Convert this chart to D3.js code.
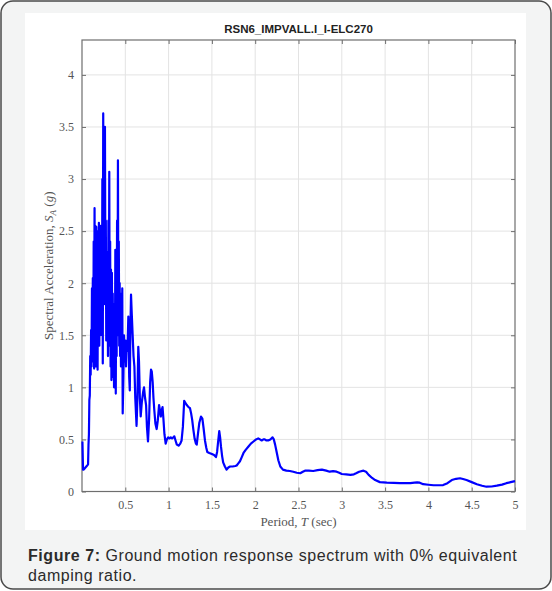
<!DOCTYPE html>
<html>
<head>
<meta charset="utf-8">
<script src="https://cdn.jsdelivr.net/npm/d3@7"></script>
<style>
  html, body { margin: 0; padding: 0; background: #fff; }
  svg { display: block; }
</style>
</head>
<body>
<div id="chart"></div>
<script>
// spectrum: period (sec) and spectral acceleration (g)
const period = [
  0.005, 0.012, 0.02, 0.03, 0.04, 0.05, 0.06, 0.07, 0.075, 0.08, 0.085, 0.09, 0.095,
  0.100, 0.105, 0.110, 0.115, 0.120, 0.125, 0.130, 0.135, 0.140, 0.145, 0.150, 0.155,
  0.160, 0.165, 0.170, 0.175, 0.180, 0.185, 0.190, 0.195, 0.200, 0.205, 0.210, 0.215,
  0.220, 0.225, 0.230, 0.235, 0.240, 0.245, 0.250, 0.255, 0.260, 0.265, 0.270, 0.275,
  0.280, 0.285, 0.290, 0.295, 0.300, 0.305, 0.310, 0.315, 0.320, 0.325, 0.330, 0.335,
  0.340, 0.345, 0.350, 0.355, 0.360, 0.365, 0.370, 0.375, 0.380, 0.385, 0.390, 0.395,
  0.400, 0.405, 0.410, 0.415, 0.420, 0.425, 0.430, 0.435, 0.440, 0.445, 0.450, 0.455,
  0.460, 0.465, 0.470, 0.478, 0.485, 0.492, 0.500, 0.508, 0.516, 0.525, 0.535, 0.545,
  0.552, 0.558, 0.566, 0.575, 0.585, 0.595, 0.605, 0.615, 0.630, 0.640, 0.650, 0.658,
  0.668, 0.678, 0.690, 0.705, 0.716, 0.728, 0.740, 0.750, 0.762, 0.775, 0.787, 0.797,
  0.806, 0.816, 0.825, 0.835, 0.848, 0.862, 0.875, 0.890, 0.900, 0.910, 0.920, 0.930,
  0.940, 0.952, 0.966, 0.980, 0.995, 1.010, 1.025, 1.040, 1.055, 1.066, 1.080, 1.095,
  1.115, 1.135, 1.150, 1.165, 1.180, 1.195, 1.210, 1.230, 1.247, 1.260, 1.272, 1.285,
  1.300, 1.315, 1.325, 1.340, 1.355, 1.374, 1.390, 1.405, 1.420, 1.435, 1.447, 1.470,
  1.500, 1.525, 1.547, 1.560, 1.572, 1.585, 1.595, 1.605, 1.618, 1.630, 1.650, 1.670,
  1.690, 1.710, 1.740, 1.770, 1.786, 1.805, 1.824, 1.845, 1.865, 1.890, 1.920, 1.950,
  1.980, 2.010, 2.035, 2.055, 2.075, 2.095, 2.110, 2.130, 2.150, 2.175, 2.200, 2.215,
  2.230, 2.250, 2.267, 2.290, 2.320, 2.360, 2.400, 2.440, 2.480, 2.520, 2.550, 2.575,
  2.620, 2.670, 2.720, 2.770, 2.820, 2.860, 2.900, 2.940, 2.970, 3.000, 3.050, 3.100,
  3.140, 3.165, 3.200, 3.250, 3.280, 3.310, 3.350, 3.385, 3.440, 3.520, 3.600, 3.670,
  3.730, 3.790, 3.840, 3.870, 3.900, 3.940, 4.000, 4.060, 4.120, 4.170, 4.220, 4.270,
  4.320, 4.365, 4.400, 4.440, 4.500, 4.560, 4.620, 4.670, 4.730, 4.790, 4.850, 4.900,
  4.950, 5.000
];
const spectralAcc = [
  0.48, 0.21, 0.21, 0.22, 0.23, 0.24, 0.25, 0.26, 0.45, 0.55, 0.88, 0.92, 1.30,
  1.12, 1.55, 1.20, 1.95, 1.35, 2.05, 1.25, 2.40, 1.18, 2.72, 1.30, 2.55,
  1.20, 2.54, 1.45, 2.30, 1.17, 2.50, 1.60, 2.58, 1.40, 2.20, 1.50, 2.55,
  1.75, 2.40, 1.50, 3.00, 1.23, 3.63, 2.10, 3.10, 1.80, 3.50, 2.00, 2.60,
  1.45, 2.30, 1.60, 2.22, 1.30, 2.60, 1.50, 3.07, 1.40, 2.40, 1.20, 2.13,
  1.07, 2.10, 1.30, 1.90, 1.10, 1.80, 1.00, 1.75, 1.15, 2.32, 0.94, 2.20,
  1.30, 2.60, 1.50, 3.18, 1.60, 2.40, 1.40, 2.00, 1.30, 1.90, 1.20, 1.70,
  1.40, 1.95, 0.75, 1.10, 1.50, 1.25, 1.45, 1.20, 1.45, 1.35, 1.68, 1.10,
  0.97, 1.50, 1.89, 1.70, 1.50, 1.30, 1.20, 0.90, 0.63, 0.90, 1.39, 1.25,
  0.90, 0.72, 0.85, 0.95, 1.00, 0.90, 0.83, 0.62, 0.48, 0.70, 1.05, 1.17,
  1.15, 1.05, 0.90, 0.78, 0.65, 0.60, 0.68, 0.83, 0.78, 0.72, 0.78, 0.81,
  0.70, 0.55, 0.46, 0.50, 0.52, 0.51, 0.52, 0.51, 0.52, 0.53, 0.49, 0.45,
  0.44, 0.46, 0.49, 0.62, 0.87, 0.85, 0.83, 0.81, 0.80, 0.75, 0.69, 0.60,
  0.51, 0.46, 0.45, 0.56, 0.66, 0.72, 0.70, 0.60, 0.49, 0.42, 0.38, 0.37,
  0.36, 0.35, 0.33, 0.38, 0.48, 0.58, 0.52, 0.43, 0.34, 0.28, 0.24, 0.21,
  0.23, 0.24, 0.24, 0.245, 0.25, 0.27, 0.29, 0.33, 0.37, 0.40, 0.43, 0.46,
  0.48, 0.50, 0.51, 0.50, 0.49, 0.50, 0.50, 0.49, 0.49, 0.50, 0.52, 0.50,
  0.45, 0.37, 0.30, 0.24, 0.21, 0.20, 0.197, 0.19, 0.18, 0.175, 0.19, 0.20,
  0.20, 0.197, 0.205, 0.21, 0.20, 0.19, 0.195, 0.19, 0.18, 0.168, 0.165, 0.16,
  0.165, 0.175, 0.19, 0.20, 0.19, 0.16, 0.13, 0.11, 0.09, 0.085, 0.082, 0.08,
  0.08, 0.08, 0.085, 0.088, 0.085, 0.07, 0.065, 0.06, 0.06, 0.062, 0.08, 0.11,
  0.122, 0.127, 0.12, 0.11, 0.09, 0.07, 0.055, 0.046, 0.048, 0.056, 0.066, 0.08,
  0.09, 0.10
];
const xTicks = [0.5, 1, 1.5, 2, 2.5, 3, 3.5, 4, 4.5, 5];
const yTicks = [0, 0.5, 1, 1.5, 2, 2.5, 3, 3.5, 4];
const chartTitle = "RSN6_IMPVALL.I_I-ELC270";

const data = period.map((t, i) => ({ t: t, sa: spectralAcc[i] }));

const width = 552, height = 591;
const svg = d3.select("#chart").append("svg")
  .attr("width", width)
  .attr("height", height);

// outer card and white figure panel
svg.append("rect")
  .attr("x", 1).attr("y", 1)
  .attr("width", width - 2).attr("height", height - 3)
  .attr("rx", 12).attr("ry", 12)
  .attr("fill", "#f3f4f4")
  .attr("stroke", "#4a4a4a")
  .attr("stroke-width", 1.5);

svg.append("rect")
  .attr("x", 25).attr("y", 13)
  .attr("width", 501).attr("height", 517)
  .attr("fill", "#fff");

const plotL = 82, plotR = 515, plotT = 40, plotB = 491.5;

const x = d3.scaleLinear().domain([0, 5]).range([plotL, plotR]);
const y = d3.scaleLinear().domain([0, 4.335]).range([plotB, plotT]);

// grid
svg.append("g").selectAll("line")
  .data(xTicks.filter(d => d < 5))
  .enter().append("line")
  .attr("x1", d => x(d)).attr("x2", d => x(d))
  .attr("y1", plotT).attr("y2", plotB)
  .attr("stroke", "#e3e3e3").attr("stroke-width", 1);

svg.append("g").selectAll("line")
  .data(yTicks.filter(d => d > 0))
  .enter().append("line")
  .attr("x1", plotL).attr("x2", plotR)
  .attr("y1", d => y(d)).attr("y2", d => y(d))
  .attr("stroke", "#e3e3e3").attr("stroke-width", 1);

// axes (ticks inside, like MATLAB)
const tickFont = "'Liberation Serif', 'DejaVu Serif', serif";
const fmt = d => String(d);

const xAxis = svg.append("g")
  .attr("transform", `translate(0,${plotB})`)
  .call(d3.axisBottom(x).tickValues(xTicks).tickFormat(fmt).tickSizeInner(-4).tickSizeOuter(0).tickPadding(9));
const xTop = svg.append("g")
  .attr("transform", `translate(0,${plotT})`)
  .call(d3.axisTop(x).tickValues(xTicks).tickSizeInner(-4).tickSizeOuter(0).tickFormat(""));
const yAxis = svg.append("g")
  .attr("transform", `translate(${plotL},0)`)
  .call(d3.axisLeft(y).tickValues(yTicks).tickFormat(fmt).tickSizeInner(-4).tickSizeOuter(0).tickPadding(8));
const yRight = svg.append("g")
  .attr("transform", `translate(${plotR},0)`)
  .call(d3.axisRight(y).tickValues(yTicks).tickSizeInner(-4).tickSizeOuter(0).tickFormat(""));

[xAxis, xTop, yAxis, yRight].forEach(g => {
  g.select(".domain").remove();
  g.selectAll("line").attr("stroke", "#6e6e6e").attr("stroke-width", 1);
  g.selectAll("text")
    .attr("fill", "#555")
    .style("font-family", tickFont)
    .style("font-size", "12px");
});

// frame
svg.append("rect")
  .attr("x", plotL).attr("y", plotT)
  .attr("width", plotR - plotL).attr("height", plotB - plotT)
  .attr("fill", "none")
  .attr("stroke", "#6e6e6e")
  .attr("stroke-width", 1.2);

// spectrum line
const line = d3.line()
  .x(d => x(d.t))
  .y(d => y(d.sa));

svg.append("path")
  .datum(data)
  .attr("d", line)
  .attr("fill", "none")
  .attr("stroke", "#0000ff")
  .attr("stroke-width", 2.2)
  .attr("stroke-linejoin", "round");

// title
svg.append("text")
  .attr("x", (plotL + plotR) / 2)
  .attr("y", 33)
  .style("text-anchor", "middle")
  .style("font-family", "'Liberation Sans', Arial, sans-serif")
  .style("font-weight", "bold")
  .style("font-size", "11.5px")
  .attr("fill", "#222")
  .text(chartTitle);

// x label
const xl = svg.append("text")
  .attr("x", (plotL + plotR) / 2)
  .attr("y", 526)
  .style("text-anchor", "middle")
  .style("font-family", tickFont)
  .style("font-size", "13px")
  .attr("fill", "#555");
xl.append("tspan").text("Period, ");
xl.append("tspan").style("font-style", "italic").text("T");
xl.append("tspan").text(" (sec)");

// y label
const yl = svg.append("text")
  .attr("transform", `translate(53,${(plotT + plotB) / 2}) rotate(-90)`)
  .style("text-anchor", "middle")
  .style("font-family", tickFont)
  .style("font-size", "13px")
  .attr("fill", "#555");
yl.append("tspan").text("Spectral Acceleration, ");
yl.append("tspan").style("font-style", "italic").text("S");
yl.append("tspan").style("font-size", "9px").attr("dy", 3).style("font-style", "italic").text("A");
yl.append("tspan").attr("dy", -3).text(" (");
yl.append("tspan").style("font-style", "italic").text("g");
yl.append("tspan").text(")");

// caption
const capFont = "'Liberation Sans', Arial, sans-serif";
const cap1 = svg.append("text")
  .attr("x", 28).attr("y", 561)
  .style("font-family", capFont)
  .style("font-size", "16px")
  .style("letter-spacing", "0.55px")
  .attr("fill", "#2b2b2b");
cap1.append("tspan").style("font-weight", "bold").text("Figure 7:");
cap1.append("tspan").text(" Ground motion response spectrum with 0% equivalent");

svg.append("text")
  .attr("x", 28).attr("y", 581)
  .style("font-family", capFont)
  .style("font-size", "16px")
  .style("letter-spacing", "0.55px")
  .attr("fill", "#2b2b2b")
  .text("damping ratio.");
</script>
</body>
</html>
